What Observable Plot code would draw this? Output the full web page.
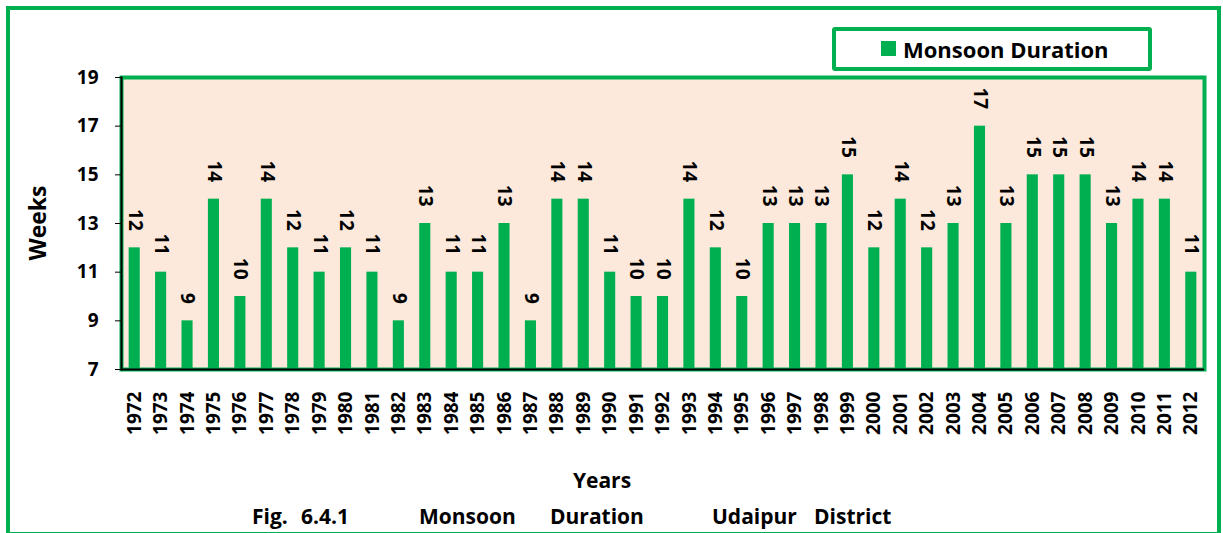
<!DOCTYPE html>
<html><head><meta charset="utf-8">
<script src="https://cdn.jsdelivr.net/npm/d3@7"></script>
<script src="https://cdn.jsdelivr.net/npm/@observablehq/plot@0.6"></script>
<style>
body{margin:0;background:#fff;font-family:"Open Sans",sans-serif;font-weight:700;color:#000}
#wrap{position:relative;width:1223px;height:533px;overflow:hidden;background:#fff}
#chart{position:absolute;left:0;top:0}
.outer{position:absolute;left:6px;top:6px;width:1215px;height:530px;border:4px solid #00B050;box-sizing:border-box;pointer-events:none}
.legend{position:absolute;left:832px;top:27px;width:320px;height:44px;border:4px solid #00B050;border-radius:3px;box-sizing:border-box;background:#fff}
.legend .sw{position:absolute;left:45px;top:10px;width:15px;height:15px;background:#00B050}
.legend .lt{position:absolute;left:67px;top:18px;transform:translateY(-50%);font-size:22px;line-height:1;white-space:nowrap}
.lab{position:absolute;font-size:21px;line-height:1;white-space:nowrap}
.ylab{left:37px;top:223px;font-size:23px;transform:translate(-50%,-50%) rotate(-90deg)}
.xlab{left:602px;top:480px;transform:translate(-50%,-50%)}
.cap{top:516px;font-size:21px;transform:translateY(-50%)}
</style></head><body>
<div id="wrap">
  <div id="chart"></div>
  <div class="outer"></div>
  <div class="legend"><div class="sw"></div><div class="lt">Monsoon Duration</div></div>
  <div class="lab ylab">Weeks</div>
  <div class="lab xlab">Years</div>
  <div class="lab cap" style="left:252px">Fig.</div>
  <div class="lab cap" style="left:301px">6.4.1</div>
  <div class="lab cap" style="left:419px">Monsoon</div>
  <div class="lab cap" style="left:550px">Duration</div>
  <div class="lab cap" style="left:712px">Udaipur</div>
  <div class="lab cap" style="left:814px">District</div>
</div>
<script>
const years = [1972,1973,1974,1975,1976,1977,1978,1979,1980,1981,1982,1983,1984,1985,1986,1987,1988,1989,1990,1991,1992,1993,1994,1995,1996,1997,1998,1999,2000,2001,2002,2003,2004,2005,2006,2007,2008,2009,2010,2011,2012];
const weeks = [12,11,9,14,10,14,12,11,12,11,9,13,11,11,13,9,14,14,11,10,10,14,12,10,13,13,13,15,12,14,12,13,17,13,15,15,15,13,14,14,11];
const yTicks = [7,9,11,13,15,17,19];
const seriesName = "Monsoon Duration";

const data = years.map((y, i) => ({year: String(y), weeks: weeks[i]}));
const GREEN = "#00B050";

const chart = Plot.plot({
  width: 1223,
  height: 533,
  marginLeft: 121,
  marginRight: 19,
  marginTop: 77,
  marginBottom: 164,
  style: {fontFamily: "Open Sans", fontWeight: 700, color: "#000", background: "transparent", overflow: "visible"},
  x: {domain: years.map(String), paddingInner: 0.58, paddingOuter: 0.29, round: false, label: null},
  y: {domain: [7, 19], label: null},
  marks: [
    Plot.frame({fill: "#FCE9DB", stroke: GREEN, strokeWidth: 4}),
    Plot.barY(data, {x: "year", y1: 7, y2: "weeks", fill: GREEN}),
    Plot.ruleY([7], {stroke: "#000", strokeWidth: 2}),
    Plot.frame({anchor: "left", stroke: "#000", strokeWidth: 2}),
    Plot.text(data, {x: "year", y: "weeks", text: d => String(d.weeks), rotate: 90, textAnchor: "end", dy: -17, fontSize: 19, fontWeight: 700, fill: "#000"}),
    Plot.axisY({ticks: yTicks, tickSize: 6, tickPadding: 17, fontSize: 19, fontWeight: 700, label: null, stroke: "#000"}),
    Plot.axisX({tickSize: 0, tickPadding: 22, tickRotate: -90, fontSize: 19, fontWeight: 700, label: null})
  ]
});
document.getElementById("chart").appendChild(chart);
</script>
</body></html>
